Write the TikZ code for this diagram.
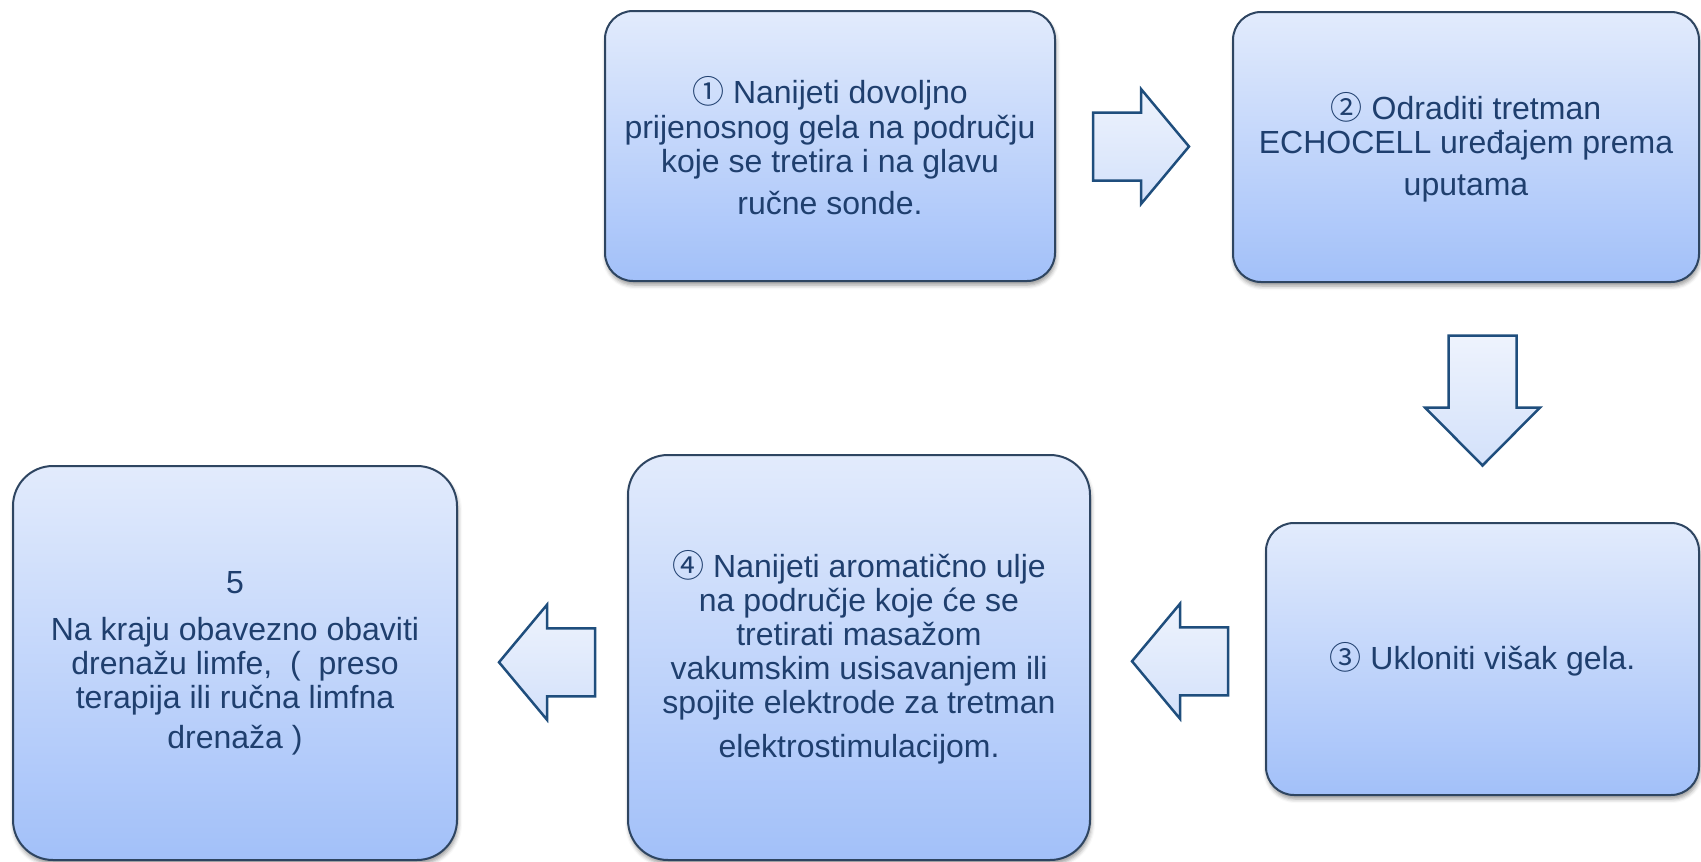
\documentclass[tikz,border=0pt]{standalone}
\usepackage{fontspec}
\setmainfont{Liberation Sans}
\newfontfamily\circf{Noto Sans CJK SC}
\usetikzlibrary{calc,shadows.blur}
\definecolor{txtblue}{RGB}{31,63,110}
\definecolor{boxedge}{RGB}{46,69,97}
\definecolor{boxtop}{RGB}{226,235,252}
\definecolor{boxbot}{RGB}{162,192,249}
\definecolor{arredge}{RGB}{31,78,125}
\definecolor{arrtop}{RGB}{238,243,253}
\definecolor{arrbot}{RGB}{211,225,250}
\begin{document}
\begin{tikzpicture}[x=1pt,y=-1pt,
  stepbox/.style={draw=boxedge, line width=2pt, top color=boxtop, bottom color=boxbot,
    rounded corners=28pt, inner sep=0pt, align=center, text=txtblue,
    font=\fontsize{32}{34}\selectfont,
    blur shadow={shadow xshift=1pt, shadow yshift=-4pt, shadow blur radius=4pt, shadow opacity=40}},
  bigbox/.style={stepbox, rounded corners=40pt},
  blockarrow/.style={draw=arredge, line width=2.5pt, top color=arrtop, bottom color=arrbot, line join=miter}]
\useasboundingbox (0,0) rectangle (1701,862);

\node[stepbox, minimum width=450pt, minimum height=270pt] (b1) at (830,146)
  {{\circf ①} Nanijeti dovoljno\\[1pt] prijenosnog gela na području\\ koje se tretira i na glavu\\[8pt] ručne sonde.};
\node[stepbox, minimum width=466pt, minimum height=270pt] (b2) at (1466,147)
  {{\circf ②} Odraditi tretman\\ ECHOCELL uređajem prema\\[8pt] uputama};
\node[stepbox, minimum width=433pt, minimum height=272pt] (b3) at (1482.5,659)
  {{\circf ③} Ukloniti višak gela.};
\node[bigbox, minimum width=462pt, minimum height=405pt] (b4) at (859,657.5)
  {{\circf ④} Nanijeti aromatično ulje\\ na područje koje će se\\ tretirati masažom\\ vakumskim usisavanjem ili\\ spojite elektrode za tretman\\[10pt] elektrostimulacijom.};
\node[bigbox, minimum width=444pt, minimum height=394pt] (b5) at (235,663)
  {5\\[13pt] Na kraju obavezno obaviti\\ drenažu limfe,~ (~ preso\\ terapija ili ručna limfna\\[6pt] drenaža )};

\coordinate (m12) at ($(b1.east)!0.5!(b2.west)$);
\coordinate (m23) at ($(b2.south -| b3.north)!0.5!(b3.north)$);
\coordinate (m34) at ($(b3.west)!0.5!(b4.east)$);
\coordinate (m45) at ($(b4.west)!0.5!(b5.east)$);

\begin{scope}[shift={($(m12)+(-3,0)$)}]
  \path[blockarrow] (-48,-34) -- (0,-34) -- (0,-57.5) -- (48,0) -- (0,57.5) -- (0,34) -- (-48,34) -- cycle;
\end{scope}
\begin{scope}[shift={($(m23)+(0,-2)$)}]
  \path[blockarrow] (-34,-65) -- (34,-65) -- (34,7) -- (57.5,7) -- (0,65) -- (-57.5,7) -- (-34,7) -- cycle;
\end{scope}
\begin{scope}[shift={($(m34)+(2,3)$)}]
  \path[blockarrow] (48,-34) -- (0,-34) -- (0,-57.5) -- (-48,0) -- (0,57.5) -- (0,34) -- (48,34) -- cycle;
\end{scope}
\begin{scope}[shift={($(m45)+(4.5,2)$)}]
  \path[blockarrow] (48,-34) -- (0,-34) -- (0,-57.5) -- (-48,0) -- (0,57.5) -- (0,34) -- (48,34) -- cycle;
\end{scope}
\end{tikzpicture}
\end{document}
